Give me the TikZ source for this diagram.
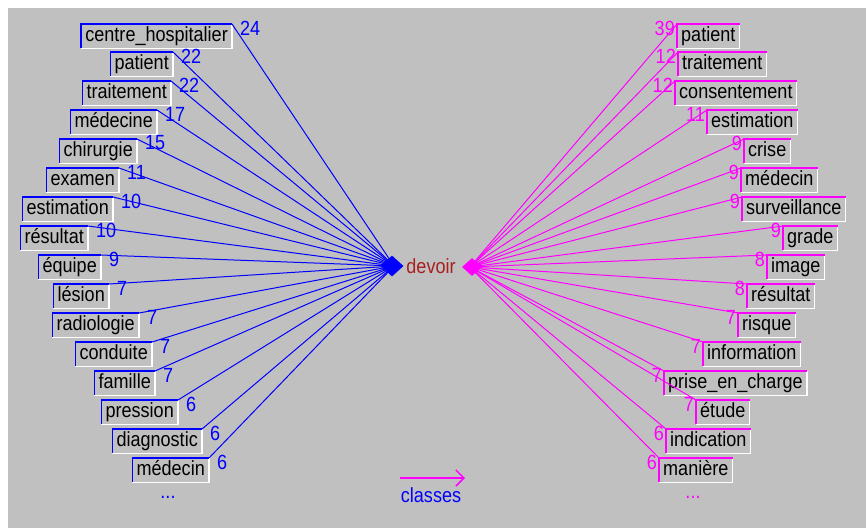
\documentclass[tikz,border=0pt]{standalone}
\usepackage{fontspec}
\setmainfont{Liberation Sans}[FakeStretch=0.88]
\usetikzlibrary{shapes.geometric,arrows.meta}
\definecolor{bg}{RGB}{192,192,192}
\definecolor{hubred}{RGB}{170,30,30}
\definecolor{mag}{RGB}{255,0,255}
\definecolor{blu}{RGB}{0,0,255}
\newcommand{\myfont}{\fontsize{20.5}{22}\selectfont}
\tikzset{
  lab/.style={inner xsep=4pt, inner ysep=0pt, minimum height=24pt,
    text height=14pt, text depth=4pt, font=\myfont, text=black},
  labL/.style={lab, anchor=north east},
  labR/.style={lab, anchor=north west},
  numL/.style={inner sep=0pt, anchor=west, font=\myfont, text=blu},
  numR/.style={inner sep=0pt, anchor=east, font=\myfont, text=mag},
  frameL/.style={blu, line width=1.5pt},
  frameR/.style={mag, line width=1.5pt},
  frameW/.style={white, line width=1.5pt},
  connL/.style={blu, line width=1pt},
  connR/.style={mag, line width=1pt},
}
\begin{document}
\begin{tikzpicture}[x=1pt,y=-1pt]
\useasboundingbox (0,0) rectangle (866,528);
\fill[white] (0,0) rectangle (866,528);
\fill[bg] (8,8) rectangle (866,528);
% hubs
\coordinate (hubL) at (394,266);
\coordinate (hubR) at (470,267);
% left labels
\foreach \x/\y/\t/\n [count=\i] in {
  232/24/centre\_hospitalier/24,
  173/52/patient/22,
  171/81/traitement/22,
  157/110/médecine/17,
  137/139/chirurgie/15,
  119/168/examen/11,
  113/197/estimation/10,
  88/226/résultat/10,
  101/255/équipe/9,
  109/284/lésion/7,
  139/313/radiologie/7,
  152/342/conduite/7,
  155/371/famille/7,
  178/400/pression/6,
  202/429/diagnostic/6,
  209/458/médecin/6}{
  \node[labL] (L\i) at (\x,\y) {\t};
  \draw[frameW] (L\i.north east) -- (L\i.south east) -- (L\i.south west);
  \draw[frameL] (L\i.south west) -- (L\i.north west) -- (L\i.north east);
  \node[numL] (NL\i) at (\x+8,\y+4) {\n};
  \draw[connL] (L\i.north east) -- (hubL);
}
% right labels
\foreach \x/\y/\t/\n [count=\i] in {
  677/24/patient/39,
  678/52/traitement/12,
  675/81/consentement/12,
  707/110/estimation/11,
  744/139/crise/9,
  741/168/médecin/9,
  742/197/surveillance/9,
  783/226/grade/9,
  767/255/image/8,
  747/284/résultat/8,
  738/313/risque/7,
  703/342/information/7,
  664/371/prise\_en\_charge/7,
  696/400/étude/7,
  666/429/indication/6,
  659/458/manière/6}{
  \node[labR] (R\i) at (\x,\y) {\t};
  \draw[frameW] (R\i.north east) -- (R\i.south east) -- (R\i.south west);
  \draw[frameR] (R\i.south west) -- (R\i.north west) -- (R\i.north east);
  \node[numR] (NR\i) at (\x-2,\y+4) {\n};
  \draw[connR] (hubR) -- (R\i.north west);
}
% hub diamonds and central word
\node[diamond, fill=blu, inner sep=0pt, minimum width=23pt, minimum height=21pt] (dL) at (392,266) {};
\node[diamond, fill=mag, inner sep=0pt, minimum width=20pt, minimum height=18pt] (dR) at (472,267) {};
\node[font=\myfont, text=hubred, inner sep=0pt] (word) at (431,266) {devoir};
% dots
\node[font=\myfont, text=blu, inner sep=0pt] (dotsL) at (168,497) {...};
\node[font=\myfont, text=mag, inner sep=0pt] (dotsR) at (693,497) {...};
% legend arrow
\coordinate (a1) at (400,478);
\coordinate (a2) at (465,478);
\draw[mag, line width=1.5pt, -{Straight Barb[length=8pt,width=16pt]}] (a1) -- (a2);
\node[font=\myfont, text=blu, inner sep=0pt] (cls) at (431,495) {classes};
\end{tikzpicture}
\end{document}
